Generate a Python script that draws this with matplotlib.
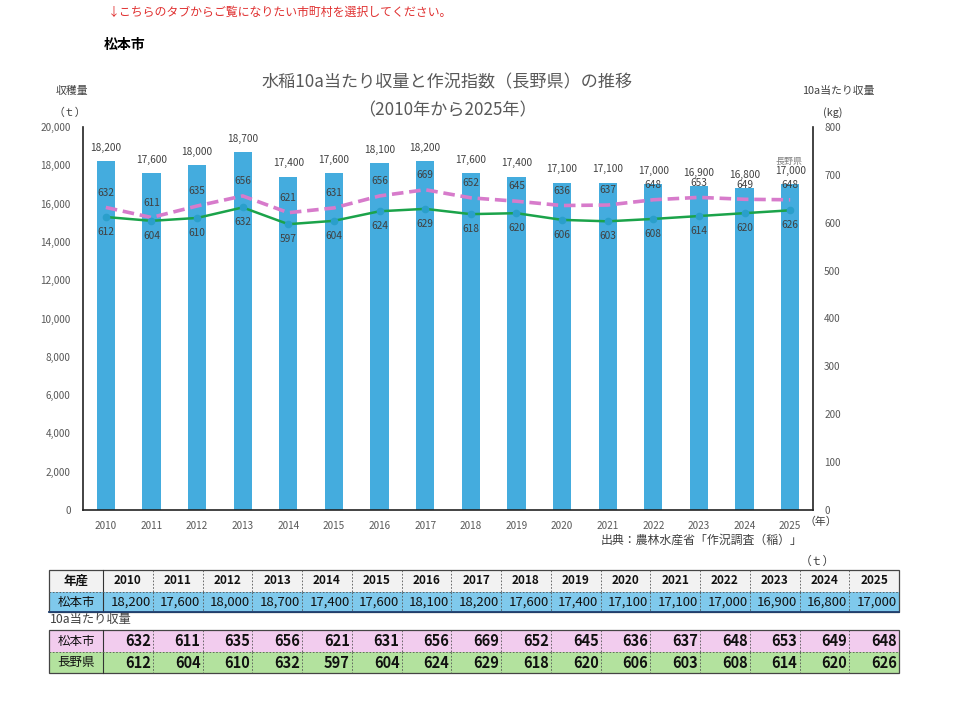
import matplotlib
matplotlib.use("Agg")
import matplotlib.pyplot as plt
from matplotlib.patches import Rectangle

plt.rcParams['font.family'] = ['Noto Sans CJK JP', 'DejaVu Sans']

# data
years = list(range(2010, 2026))
harvest = [18200, 17600, 18000, 18700, 17400, 17600, 18100, 18200,
           17600, 17400, 17100, 17100, 17000, 16900, 16800, 17000]
yield_city = [632, 611, 635, 656, 621, 631, 656, 669, 652, 645, 636, 637, 648, 653, 649, 648]
yield_pref = [612, 604, 610, 632, 597, 604, 624, 629, 618, 620, 606, 603, 608, 614, 620, 626]

W, H = 960, 701
fig = plt.figure(figsize=(W / 100, H / 100), dpi=100)

# chart axes (pixel box 83..813 x 127..510)
ax = fig.add_axes([83 / W, (H - 510) / H, 730 / W, 383 / H])
x = range(len(years))
ax.bar(x, harvest, width=0.4, color='#44ACDE', zorder=2)
ax.set_xlim(-0.5, 15.5)
ax.set_ylim(0, 20000)
ax.set_yticks(range(0, 20001, 2000))
ax.set_yticklabels([f'{v:,}' for v in range(0, 20001, 2000)])
ax.set_xticks(list(x))
ax.set_xticklabels([str(y) for y in years])
ax.tick_params(axis='both', length=0, labelsize=7.2, colors='#595959')
ax.tick_params(axis='x', pad=8)
ax.tick_params(axis='y', pad=9)
for s in ['top', 'right']:
    ax.spines[s].set_visible(False)
ax.spines['left'].set_color('#222222')
ax.spines['bottom'].set_color('#222222')
ax.spines['left'].set_linewidth(1.2)
ax.spines['bottom'].set_linewidth(1.2)
for i, v in enumerate(harvest):
    ax.annotate(f'{v:,}', (i, v), xytext=(0, 6), textcoords='offset points',
                ha='center', va='bottom', fontsize=7.3, color='#404040')

ax2 = ax.twinx()
ax2.set_ylim(0, 800)
ax2.set_yticks(range(0, 801, 100))
ax2.tick_params(axis='y', length=0, labelsize=7.2, colors='#595959', pad=8)
for s in ['top', 'left', 'bottom']:
    ax2.spines[s].set_visible(False)
ax2.spines['right'].set_color('#222222')
ax2.spines['right'].set_linewidth(1.2)
ax2.plot(x, yield_city, color='#D77BCB', lw=2.6, ls=(0, (3.2, 1.6)), zorder=3)
ax2.plot(x, yield_pref, color='#1BA34A', lw=1.8, marker='o', ms=4.5,
         mfc='#2A9FCB', mec='#2A9FCB', zorder=4)
for i in x:
    ax2.annotate(str(yield_city[i]), (i, yield_city[i]), xytext=(0, 7),
                 textcoords='offset points', ha='center', va='bottom',
                 fontsize=7.3, color='#404040')
    ax2.annotate(str(yield_pref[i]), (i, yield_pref[i]), xytext=(0, -7),
                 textcoords='offset points', ha='center', va='top',
                 fontsize=7.3, color='#404040')

# overlay in pixel coordinates for texts and table
ov = fig.add_axes([0, 0, 1, 1], facecolor='none')
ov.set_xlim(0, W)
ov.set_ylim(H, 0)
ov.axis('off')

ov.text(108, 12, '↓こちらのタブからご覧になりたい市町村を選択してください。',
        fontsize=8.6, color='#E03030', va='center')
ov.text(104, 45, '松本市', fontsize=10, fontweight='bold', va='center')
ov.text(447, 82, '水稲10a当たり収量と作況指数（長野県）の推移', fontsize=12.3,
        color='#595959', ha='center', va='center')
ov.text(447, 110, '（2010年から2025年）', fontsize=12.3, color='#595959',
        ha='center', va='center')
ov.text(88, 91, '収穫量', fontsize=7.8, color='#404040', ha='right', va='center')
ov.text(86, 113, '（ｔ）', fontsize=7.8, color='#404040', ha='right', va='center')
ov.text(802, 91, '10a当たり収量', fontsize=7.8, color='#404040', va='center')
ov.text(823, 113, '(kg)', fontsize=7.8, color='#404040', va='center')
ov.text(776, 161, '長野県', fontsize=6.5, color='#808080', va='center')
ov.text(805, 522, '（年）', fontsize=7.8, color='#404040', va='center')
ov.text(702, 540, '出典：農林水産省「作況調査（稲）」', fontsize=8.6, color='#404040',
        ha='center', va='center')
ov.text(800, 561, '（ｔ）', fontsize=8.5, color='#404040', va='center')

# table
tx0, c0w = 49, 54
cw = (899 - 103) / 16
rows = [
    ('年産', [str(y) for y in years], '#F2F2F2', 570, 592, 'center', 'bold', 8.5),
    ('松本市', [f'{v:,}' for v in harvest], '#7FC9EC', 592, 612, 'right', 'normal', 9.5),
    ('松本市', [str(v) for v in yield_city], '#F2CCEE', 630, 652, 'right', 'bold', 10.5),
    ('長野県', [str(v) for v in yield_pref], '#B3E29E', 652, 673, 'right', 'bold', 10.5),
]
for head, vals, fc, y0, y1, al, fw, fs in rows:
    ov.add_patch(Rectangle((tx0, y0), 899 - tx0, y1 - y0, facecolor=fc,
                           edgecolor='none'))
    ym = (y0 + y1) / 2
    ov.text(tx0 + c0w / 2, ym, head, ha='center', va='center', fontsize=9,
            fontweight='bold' if head == '年産' else 'normal', color='#111111')
    ov.plot([tx0 + c0w, tx0 + c0w], [y0, y1], color='#333333', lw=0.8)
    for j, v in enumerate(vals):
        cx0 = tx0 + c0w + j * cw
        if j > 0:
            ov.plot([cx0, cx0], [y0, y1], color='#555555', lw=0.6, ls=(0, (2, 2)))
        if al == 'center':
            ov.text(cx0 + cw / 2, ym, v, ha='center', va='center', fontsize=fs,
                    fontweight=fw, color='#111111')
        else:
            ov.text(cx0 + cw - 2, ym, v, ha='right', va='center',
                    fontsize=fs, fontweight=fw, color='#111111')
# table borders
ov.add_patch(Rectangle((tx0, 570), 899 - tx0, 42, facecolor='none',
                       edgecolor='#444444', lw=0.9))
ov.plot([tx0, 899], [592, 592], color='#555555', lw=0.6, ls=(0, (2, 2)))
ov.plot([tx0, 899], [612, 612], color='#1F3F6F', lw=1.3)
ov.add_patch(Rectangle((tx0, 630), 899 - tx0, 43, facecolor='none',
                       edgecolor='#444444', lw=0.9))
ov.plot([tx0, 899], [652, 652], color='#555555', lw=0.6, ls=(0, (2, 2)))
ov.text(50, 620, '10a当たり収量', fontsize=8.8, color='#404040', va='center')

fig.savefig('out.png', dpi=100)
